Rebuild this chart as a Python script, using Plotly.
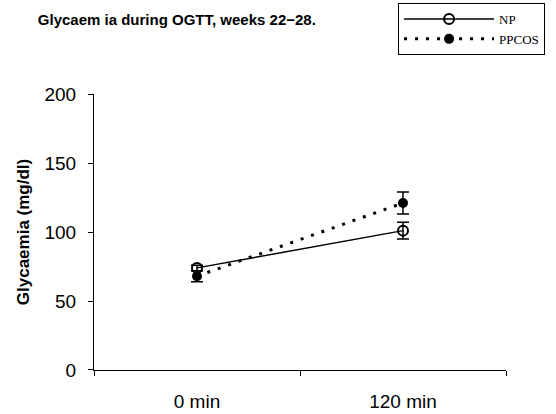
import plotly.graph_objects as go

categories = ["0 min", "120 min"]
np_values = [74, 101]
np_err = [2, 6]
ppcos_values = [68, 121]
ppcos_err = [4, 8]
y_ticks = [0, 50, 100, 150, 200]

fig = go.Figure()
fig.add_trace(go.Scatter(
    x=categories, y=np_values, name="NP", mode="lines+markers",
    line=dict(color="black", width=1.5, dash="solid"),
    marker=dict(symbol="circle-open", size=10, color="black", line=dict(width=2)),
    error_y=dict(type="data", array=np_err, color="black", thickness=1.5, width=6),
))
fig.add_trace(go.Scatter(
    x=categories, y=ppcos_values, name="PPCOS", mode="lines+markers",
    line=dict(color="black", width=3, dash="3px,8px"),
    marker=dict(symbol="circle", size=10, color="black"),
    error_y=dict(type="data", array=ppcos_err, color="black", thickness=1.5, width=6),
))

fig.update_layout(
    width=556, height=414,
    margin=dict(l=94, r=50, t=3, b=44),
    paper_bgcolor="white", plot_bgcolor="white",
    font=dict(family="Liberation Sans, Arial", color="black"),
    title=dict(text="<b>Glycaem ia during OGTT, weeks 22\u221228.</b>",
               x=0.068, xanchor="left", y=0.952, yanchor="middle",
               font=dict(size=15, family="Liberation Sans, Arial")),
    showlegend=True,
    legend=dict(x=0.738, xanchor="left", y=1.0, yanchor="top",
                bordercolor="black", borderwidth=1, bgcolor="white",
                font=dict(family="Liberation Serif, Times New Roman", size=13),
                tracegroupgap=0, itemwidth=90),
    xaxis=dict(type="category", range=[-0.5, 1.5], tickson="boundaries",
               showline=True, linecolor="black", linewidth=1,
               ticks="outside", ticklen=5, tickcolor="black",
               ticklabelstandoff=14, automargin=False,
               tickfont=dict(size=19), showgrid=False, zeroline=False),
    yaxis=dict(range=[0, 200], tickvals=y_ticks, domain=[0, 0.752],
               showline=True, linecolor="black", linewidth=1,
               ticks="outside", ticklen=5, tickcolor="black",
               ticklabelstandoff=8, automargin=False,
               tickfont=dict(size=19), showgrid=False, zeroline=False,
               title=dict(text="<b>Glycaemia (mg/dl)</b>", font=dict(size=17), standoff=10)),
)

fig.write_html("out.html")
